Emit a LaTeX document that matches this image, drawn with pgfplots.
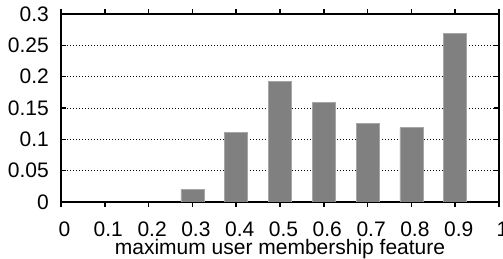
\documentclass[border=0pt]{standalone}
\usepackage{pgfplots}
\pgfplotsset{compat=1.18}
\usepackage{fontspec}
\setmainfont{Liberation Sans}
\pgfplotsset{
  layers/mylayers/.define layer set={axis background,axis grid,pre main,main,axis ticks,axis lines,axis tick labels,axis descriptions,axis foreground}{},
}
\begin{document}
\begin{tikzpicture}
\begin{axis}[
  name=ax,
  set layers=mylayers,
  scale only axis,
  width=438bp, height=188bp,
  xmin=0, xmax=1, ymin=0, ymax=0.3,
  xtick={0,0.1,...,1.01},
  xticklabels={0,0.1,0.2,0.3,0.4,0.5,0.6,0.7,0.8,0.9,1},
  ytick={0,0.05,0.1,0.15,0.2,0.25,0.3},
  yticklabels={0,0.05,0.1,0.15,0.2,0.25,0.3},
  font=\fontsize{21bp}{25bp}\selectfont,
  tick align=inside,
  xtick pos=both, ytick pos=both,
  major tick length=5bp,
  tick style={line width=1.5bp, black},
  axis line style={line width=2.5bp, black},
  ymajorgrids,
  grid style={line width=0.8bp, black, dash pattern=on 1bp off 2bp},
  xticklabel style={inner sep=0pt, anchor=base, yshift=-29.5bp, xshift=3.5bp},
  yticklabel style={inner sep=0pt, anchor=east, xshift=-12bp},
  xlabel={maximum user membership feature},
  xlabel style={at={(axis description cs:0.5,0)}, anchor=base, yshift=-52bp, inner sep=0pt},
  ybar, bar width=23bp,
]
\addplot[fill=black!50, draw=black!35, line width=0.8bp] coordinates {
  (0.3,0.020) (0.4,0.111) (0.5,0.193) (0.6,0.159) (0.7,0.125) (0.8,0.119) (0.9,0.269)
};
\end{axis}
\pgfresetboundingbox
\path ([shift={(-61bp,-57bp)}]ax.south west) rectangle ([shift={(4bp,14bp)}]ax.north east);
\end{tikzpicture}
\end{document}
